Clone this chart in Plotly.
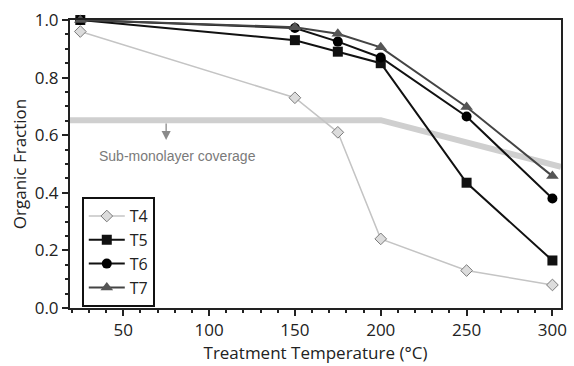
import plotly.graph_objects as go

temps = [25, 150, 175, 200, 250, 300]
t4 = [0.96, 0.73, 0.61, 0.24, 0.13, 0.08]
t5 = [1.0, 0.93, 0.89, 0.85, 0.435, 0.165]
t6 = [1.0, 0.972, 0.925, 0.87, 0.665, 0.38]
t7 = [1.0, 0.975, 0.952, 0.905, 0.698, 0.458]
mono_x = [19, 200, 305]
mono_y = [0.652, 0.652, 0.49]

font = "Open Sans"
fig = go.Figure()
fig.add_trace(go.Scatter(x=mono_x, y=mono_y, mode="lines",
                         line=dict(color="#cfcfcf", width=6),
                         showlegend=False, hoverinfo="skip"))
fig.add_trace(go.Scatter(x=temps, y=t4, name="T4", mode="lines+markers",
                         line=dict(color="#c4c4c4", width=1.5),
                         marker=dict(symbol="diamond", size=9, color="#dcdcdc",
                                     line=dict(color="#7a7a7a", width=1))))
fig.add_trace(go.Scatter(x=temps, y=t5, name="T5", mode="lines+markers",
                         line=dict(color="#111111", width=2),
                         marker=dict(symbol="square", size=10, color="#111111")))
fig.add_trace(go.Scatter(x=temps, y=t6, name="T6", mode="lines+markers",
                         line=dict(color="#111111", width=2),
                         marker=dict(symbol="circle", size=10, color="#000000")))
fig.add_trace(go.Scatter(x=temps, y=t7, name="T7", mode="lines+markers",
                         line=dict(color="#444444", width=2),
                         marker=dict(symbol="triangle-up", size=11, color="#555555")))

fig.add_annotation(x=75, y=0.583, ax=75, ay=0.646, xref="x", yref="y",
                   axref="x", ayref="y", showarrow=True, arrowhead=2,
                   arrowsize=1.4, arrowwidth=1.3, arrowcolor="#8a8a8a", text="")
fig.add_annotation(x=35, y=0.527, xref="x", yref="y", xanchor="left",
                   text="Sub-monolayer coverage", showarrow=False,
                   font=dict(family="Liberation Sans", size=14, color="#7a7a7a"))

fig.update_layout(
    width=574, height=366,
    margin=dict(l=70, r=7, t=20, b=58),
    paper_bgcolor="white", plot_bgcolor="white",
    font=dict(family=font, size=17, color="#222222"),
    legend=dict(x=0.024, y=0.385, xanchor="left", yanchor="top",
                bordercolor="#111111", borderwidth=2, bgcolor="white",
                font=dict(family=font, size=16), tracegroupgap=0,
                itemwidth=36),
    xaxis=dict(range=[19, 305], tickvals=[50, 100, 150, 200, 250, 300],
               ticks="outside", ticklen=6, tickwidth=1.5, tickcolor="#222",
               tickfont=dict(size=17),
               minor=dict(dtick=10, tick0=0, ticks="outside", ticklen=3, tickcolor="#222"),
               showline=True, linecolor="#222", linewidth=2, mirror=True,
               showgrid=False, zeroline=False,
               title=dict(text="Treatment Temperature (°C)", font=dict(size=17), standoff=6)),
    yaxis=dict(range=[0, 1.0], tickvals=[0, 0.2, 0.4, 0.6, 0.8, 1.0],
               tickformat=".1f",
               ticks="outside", ticklen=6, tickwidth=1.5, tickcolor="#222",
               tickfont=dict(size=17),
               minor=dict(dtick=0.05, tick0=0, ticks="outside", ticklen=3, tickcolor="#222"),
               showline=True, linecolor="#222", linewidth=2, mirror=True,
               showgrid=False, zeroline=False,
               title=dict(text="Organic Fraction", font=dict(size=17), standoff=4)),
)
fig.update_traces(cliponaxis=False)
fig.write_html("out.html")
